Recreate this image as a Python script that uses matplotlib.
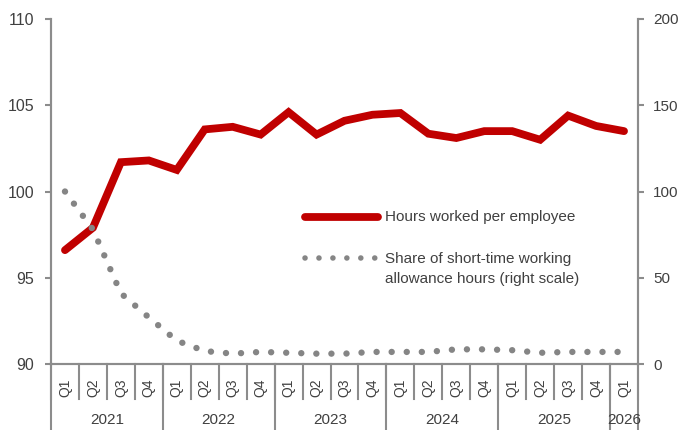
import numpy as np
import matplotlib
matplotlib.use("Agg")
import matplotlib.pyplot as plt
from matplotlib.lines import Line2D

plt.rcParams['font.family'] = ['Liberation Sans', 'DejaVu Sans']

# Data
years = ['2021', '2022', '2023', '2024', '2025', '2026']
quarters = ['Q1', 'Q2', 'Q3', 'Q4'] * 5 + ['Q1']
hours_worked = [96.6, 97.9, 101.7, 101.8, 101.25, 103.6, 103.75, 103.3, 104.6, 103.3,
                104.1, 104.45, 104.55, 103.35, 103.1, 103.5, 103.5, 103.0, 104.4, 103.8, 103.5]
short_time_share = [100, 78, 41, 27, 13.5, 7.5, 6, 7, 6.5, 6,
                    6, 7, 7, 7, 8.5, 8.5, 8, 6.5, 7, 7, 7]

TXT = '#404040'
AX = '#8c8c8c'
RED = '#c00000'
GREY = '#858585'

fig = plt.figure(figsize=(6.79, 4.30), dpi=100)
ax = fig.add_axes([51 / 679, 66 / 430, 587 / 679, 345 / 430])
ax2 = ax.twinx()

x = np.arange(len(hours_worked))
ax.plot(x, hours_worked, color=RED, lw=5.6, solid_capstyle='round',
        solid_joinstyle='miter')
ax2.plot(x, short_time_share, color=GREY, lw=4.6, linestyle=(0, (0.01, 2.35)),
         dash_capstyle='round')

ax.set_xlim(-0.5, len(x) - 0.5)
ax.set_ylim(90, 110)
ax.set_yticks([90, 95, 100, 105, 110])
ax2.set_ylim(0, 200)
ax2.set_yticks([0, 50, 100, 150, 200])

for a, pad, size in ((ax, 8, 11.5), (ax2, 7, 11)):
    for s in a.spines.values():
        s.set_color(AX)
        s.set_linewidth(1.5)
    a.spines['top'].set_visible(False)
    a.tick_params(axis='y', colors=AX, labelcolor=TXT, labelsize=size,
                  length=4, width=1.5, pad=pad)
ax.set_xticks([])

# category axis: quarter labels, separators and year groups
trans = ax.get_xaxis_transform()
for i, q in enumerate(quarters):
    ax.text(i, -0.07, q, transform=trans, rotation=90, ha='center', va='center',
            fontsize=10, color=TXT)
for b in np.arange(-0.5, len(x)):
    ax.plot([b, b], [0, -0.1], transform=trans, color=AX, lw=1.5, clip_on=False)
year_edges = [-0.5, 3.5, 7.5, 11.5, 15.5, 19.5, 20.5]
for b in year_edges:
    ax.plot([b, b], [0, -0.195], transform=trans, color=AX, lw=1.5, clip_on=False)
for k, yr in enumerate(years):
    ax.text((year_edges[k] + year_edges[k + 1]) / 2, -0.162, yr, transform=trans,
            ha='center', va='center', fontsize=11, color=TXT)

# legend, placed inside the plot area
ax.add_line(Line2D([0.4327, 0.557], [0.426, 0.426], transform=ax.transAxes,
                   color=RED, lw=5.6, solid_capstyle='round'))
ax.text(0.569, 0.426, 'Hours worked per employee', transform=ax.transAxes,
        ha='left', va='center', fontsize=11, color=TXT)
ax.add_line(Line2D([0.4327, 0.557], [0.307, 0.307], transform=ax.transAxes,
                   color=GREY, lw=4.0, linestyle=(0, (0.01, 2.5)),
                   dash_capstyle='round'))
ax.text(0.569, 0.275, 'Share of short-time working\nallowance hours (right scale)',
        transform=ax.transAxes, ha='left', va='center', fontsize=11, color=TXT,
        linespacing=1.6)

fig.savefig('out.png', dpi=100)
